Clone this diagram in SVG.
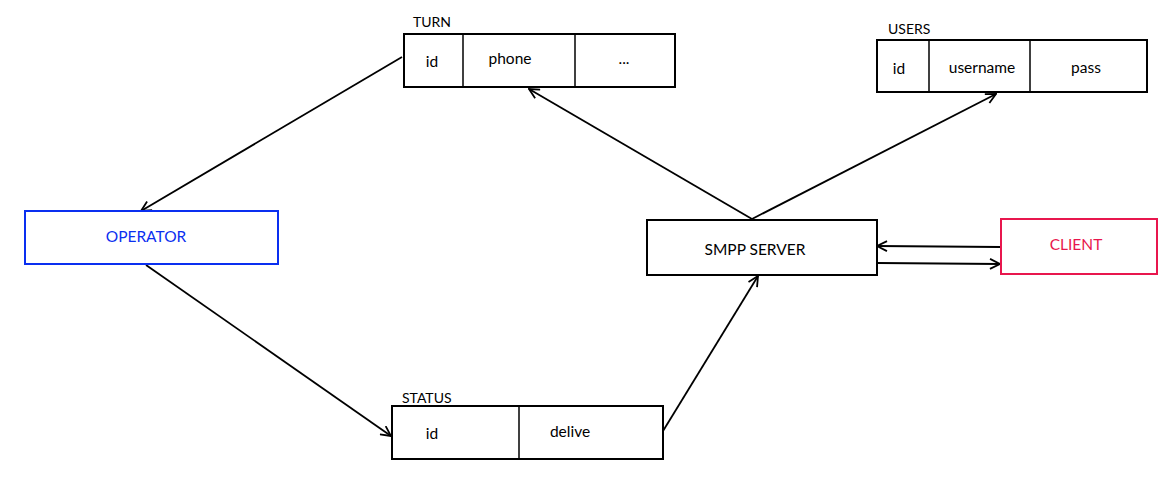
<svg xmlns="http://www.w3.org/2000/svg" width="1171" height="485" viewBox="0 0 1171 485">
<defs>
<marker id="arr" viewBox="0 0 12 12" refX="11" refY="6" markerWidth="12" markerHeight="12" markerUnits="userSpaceOnUse" orient="auto">
<path d="M1,1 L11,6 L1,11" fill="none" stroke="#000" stroke-width="1.8"/>
</marker>
<style>
.box{fill:#fff;stroke:#000;stroke-width:2}
.div{stroke:#000;stroke-width:1.5}
text{font-family:Lato,"Liberation Sans",sans-serif;font-size:15.5px;fill:#000}
.c{text-anchor:middle}
.lb{font-size:14px}
.ln{fill:none;stroke:#000;stroke-width:1.8;marker-end:url(#arr)}
</style>
</defs>
<rect width="1171" height="485" fill="#fff"/>
<g id="connectors">
<line class="ln" x1="402" y1="57" x2="141" y2="211"/>
<line class="ln" x1="146" y1="265" x2="391" y2="436"/>
<line class="ln" x1="663" y1="431" x2="758" y2="276"/>
<line class="ln" x1="752" y1="219" x2="529" y2="89"/>
<line class="ln" x1="752" y1="219" x2="996" y2="94"/>
<line class="ln" x1="1000" y1="247" x2="877" y2="246"/>
<line class="ln" x1="878" y1="263" x2="1000" y2="264"/>
</g>
<g id="turn">
<text class="lb" x="413" y="27">TURN</text>
<rect class="box" x="404" y="34" width="271" height="53"/>
<line class="div" x1="463" y1="34" x2="463" y2="87"/>
<line class="div" x1="575" y1="34" x2="575" y2="87"/>
<text class="c" x="432" y="67">id</text>
<text class="c" x="510" y="64">phone</text>
<text class="c" x="624" y="64">...</text>
</g>
<g id="users">
<text class="lb" x="888" y="34">USERS</text>
<rect class="box" x="877" y="40" width="270" height="52"/>
<line class="div" x1="929" y1="40" x2="929" y2="92"/>
<line class="div" x1="1030" y1="40" x2="1030" y2="92"/>
<text class="c" x="899" y="74">id</text>
<text class="c" x="982" y="73">username</text>
<text class="c" x="1086" y="73">pass</text>
</g>
<g id="status">
<text class="lb" x="402" y="403">STATUS</text>
<rect class="box" x="392" y="406" width="271" height="53"/>
<line class="div" x1="519" y1="406" x2="519" y2="459"/>
<text class="c" x="432" y="439">id</text>
<text class="c" x="570" y="437">delive</text>
</g>
<g id="smpp">
<rect class="box" x="647" y="220" width="230" height="55"/>
<text class="c" x="755" y="255">SMPP SERVER</text>
</g>
<g id="client">
<rect x="1001" y="219" width="156" height="55" fill="#fff" stroke="#e8164d" stroke-width="2"/>
<text class="c" x="1076" y="250" style="fill:#e8164d">CLIENT</text>
</g>
<g id="operator">
<rect x="25" y="211" width="253" height="53" fill="#fff" stroke="#0a2ff0" stroke-width="2"/>
<text class="c" x="146" y="242" style="fill:#0a2ff0">OPERATOR</text>
</g>
</svg>
